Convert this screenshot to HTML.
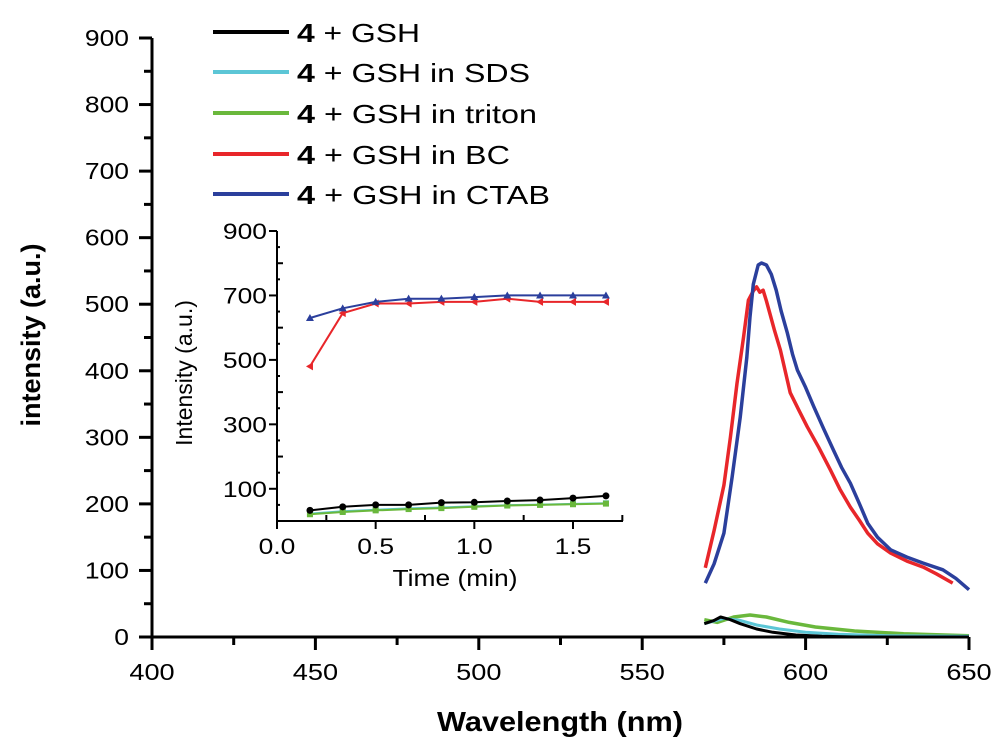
<!DOCTYPE html>
<html><head><meta charset="utf-8"><style>
html,body{margin:0;padding:0;background:#fff;}
svg{display:block;font-family:"Liberation Sans",Arial,sans-serif;}
</style></head><body>
<svg id="chart" width="1000" height="750" viewBox="0 0 1000 750">
<g id="main"></g>
<g id="inset"></g>
<g id="legend"></g>
</svg>
<script>
const NS="http://www.w3.org/2000/svg";
const seriesNames=["4 + GSH","4 + GSH in SDS","4 + GSH in triton","4 + GSH in BC","4 + GSH in CTAB"];
const seriesColors=["#000000","#5cc6d6","#6ab83c","#e8262a","#2b3f9c"];
const xTicks=[400,450,500,550,600,650];
const yTicks=[0,100,200,300,400,500,600,700,800,900];
const blackWl=[569,572,574,577,580,585,590,597,605,615,650];
const blackVal=[20,25,30,26,20,12,7,3,1,0,0];
const cyanWl=[569,575,580,585,592,600,610,625,650];
const cyanVal=[20,28,25,18,12,7,4,2,1];
const greenWl=[569,573,578,583,588,595,603,615,630,650];
const greenVal=[26,22,30,33,30,22,15,9,5,2];
const redWl=[569.3,572,575,577,579,581,582.5,584,585,586,587,588,589,590.5,592.3,595.3,598,600.5,604,607.6,610.5,613.7,616.5,619,622,626,631,636,640,645];
const redVal=[104,160,228,300,381,450,506,520,526,518,521,505,487,460,431,367,340,316,285,251,222,195,175,156,140,126,114,105,95,81];
const blueWl=[569.3,572,575,577.5,580,582,583,584,585.5,586.5,588,589.5,591,592.5,594.4,596,597.5,600,602.5,605.5,608.5,611,613.7,616.5,619,622,626,631,636,642,646,650];
const blueVal=[81,110,156,240,330,420,481,530,559,562,559,545,521,490,457,425,401,375,346,313,281,255,231,200,171,150,131,120,111,101,88,71];
const tVals=[0.167,0.333,0.5,0.667,0.833,1.0,1.167,1.333,1.5,1.667];
const insBlue=[630,660,680,690,690,695,700,700,700,700];
const insRed=[480,645,675,675,680,680,690,680,680,680];
const insBlack=[33,44,50,50,57,58,62,65,71,78];
const insGreen=[21,28,33,37,40,44,48,50,52,54];
const insCyan=[23,30,35,39,42,46,49,51,53,55];
const insXTicks=[0.0,0.5,1.0,1.5];
const insYTicks=[100,300,500,700,900];

function el(tag,attrs,parent,name,inter){
  const e=document.createElementNS(NS,tag);
  for(const k in attrs)e.setAttribute(k,attrs[k]);
  
  
  parent.appendChild(e);return e;
}
function stretch(t,k){
  const w=t.getComputedTextLength();
  t.setAttribute('textLength',(w*k).toFixed(1));
  t.setAttribute('lengthAdjust','spacingAndGlyphs');
}
const X=v=>152+(v-400)*(817/250);
const Y=v=>637-v*(599/900);
const gm=document.getElementById('main');
el('line',{x1:152,y1:Y(0),x2:969,y2:Y(0),stroke:'#000','stroke-width':3},gm,'x-axis-line');
el('line',{x1:152,y1:Y(0)+1.5,x2:152,y2:Y(900),stroke:'#000','stroke-width':3},gm,'y-axis-line');
for(let v=400;v<=650;v+=25){
  const maj=(v%50===0);
  el('line',{x1:X(v),y1:Y(0),x2:X(v),y2:Y(0)+(maj?13:8),stroke:'#000','stroke-width':3},gm,'x-tick');
}
xTicks.forEach(v=>{const t=el('text',{x:X(v),y:680,'text-anchor':'middle','font-size':23},gm,'x-tick-label');t.textContent=v;stretch(t,1.18);});
for(let v=0;v<=900;v+=50){
  const maj=(v%100===0);
  el('line',{x1:152,y1:Y(v),x2:152-(maj?13:8),y2:Y(v),stroke:'#000','stroke-width':3},gm,'y-tick');
}
yTicks.forEach(v=>{const t=el('text',{x:129,y:Y(v)+8,'text-anchor':'end','font-size':23},gm,'y-tick-label');t.textContent=v;stretch(t,1.15);});
let tt=el('text',{x:560,y:731,'text-anchor':'middle','font-size':28,'font-weight':'bold'},gm,'x-axis-title');tt.textContent='Wavelength (nm)';
tt.setAttribute('textLength','246');tt.setAttribute('lengthAdjust','spacingAndGlyphs');
tt=el('text',{x:0,y:0,'text-anchor':'middle','font-size':27,'font-weight':'bold',transform:'translate(40,335) rotate(-90)'},gm,'y-axis-title');tt.textContent='intensity (a.u.)';
function poly(xs,ys,fx,fy,color,w,parent,name){
  const pts=xs.map((x,i)=>fx(x).toFixed(1)+','+fy(ys[i]).toFixed(1)).join(' ');
  el('polyline',{points:pts,fill:'none',stroke:color,'stroke-width':w,'stroke-linejoin':'round'},parent,name);
}
poly(greenWl,greenVal,X,Y,seriesColors[2],3.5,gm,'triton-spectrum');
poly(cyanWl,cyanVal,X,Y,seriesColors[1],3,gm,'sds-spectrum');
poly(blackWl,blackVal,X,Y,seriesColors[0],3,gm,'gsh-spectrum');
poly(redWl,redVal,X,Y,seriesColors[3],3.5,gm,'bc-spectrum');
poly(blueWl,blueVal,X,Y,seriesColors[4],3.5,gm,'ctab-spectrum');
// inset
const gi=document.getElementById('inset');
const IX=v=>277+v*(296/1.5);
const IY=v=>521-v*(290/900);
el('line',{x1:277,y1:521,x2:623,y2:521,stroke:'#000','stroke-width':2},gi,'inset-x-axis');
el('line',{x1:277,y1:522,x2:277,y2:231,stroke:'#000','stroke-width':2},gi,'inset-y-axis');
for(let v=0;v<=1.75;v+=0.25){
  const maj=Math.abs(v*2-Math.round(v*2))<1e-6;
  el('line',{x1:IX(v),y1:521,x2:IX(v),y2:maj?529:515,stroke:'#000','stroke-width':2},gi,'inset-x-tick');
}
insXTicks.forEach(v=>{const t=el('text',{x:IX(v),y:554,'text-anchor':'middle','font-size':22},gi,'inset-x-tick-label');t.textContent=v.toFixed(1);stretch(t,1.2);});
for(let v=0;v<=900;v+=50){
  const maj=(v%200===100);
  el('line',{x1:277,y1:IY(v),x2:maj?269:(v%100===0?283:280),y2:IY(v),stroke:'#000','stroke-width':2},gi,'inset-y-tick');
}
insYTicks.forEach(v=>{const t=el('text',{x:267,y:IY(v)+8,'text-anchor':'end','font-size':22},gi,'inset-y-tick-label');t.textContent=v;stretch(t,1.2);});
tt=el('text',{x:455,y:586,'text-anchor':'middle','font-size':23},gi,'inset-x-axis-title');tt.textContent='Time (min)';
tt.setAttribute('textLength','125');tt.setAttribute('lengthAdjust','spacingAndGlyphs');
tt=el('text',{x:0,y:0,'text-anchor':'middle','font-size':23,transform:'translate(192,373) rotate(-90)'},gi,'inset-y-axis-title');tt.textContent='Intensity (a.u.)';
function marks(vals,color,shape,name){
  poly(tVals,vals,IX,IY,color,2,gi,name+'-line');
  tVals.forEach((t,i)=>{
    const x=IX(t),y=IY(vals[i]);
    if(shape==='circle')el('circle',{cx:x,cy:y,r:3.5,fill:color},gi,name+'-point');
    else if(shape==='square')el('rect',{x:x-3,y:y-3,width:6,height:6,fill:color},gi,name+'-point');
    else if(shape==='up')el('polygon',{points:`${x},${y-4} ${x-4},${y+3} ${x+4},${y+3}`,fill:color},gi,name+'-point');
    else el('polygon',{points:`${x-4},${y} ${x+3},${y-4} ${x+3},${y+4}`,fill:color},gi,name+'-point');
  });
}
marks(insCyan,seriesColors[1],'square','inset-sds');
marks(insGreen,seriesColors[2],'square','inset-triton');
marks(insBlack,seriesColors[0],'circle','inset-gsh');
marks(insRed,seriesColors[3],'left','inset-bc');
marks(insBlue,seriesColors[4],'up','inset-ctab');
// legend
const gl=document.getElementById('legend');
const ly=[32,72,113,154,194];
const lw=[123,233,240,213,253];
seriesNames.forEach((n,i)=>{
  el('line',{x1:213,y1:ly[i],x2:289,y2:ly[i],stroke:seriesColors[i],'stroke-width':4},gl,'legend-swatch');
  const t=el('text',{x:297,y:ly[i]+10,'font-size':26,textLength:lw[i],lengthAdjust:'spacingAndGlyphs'},gl,'legend-entry');
  const b=document.createElementNS(NS,'tspan');b.setAttribute('font-weight','bold');b.textContent='4';
  t.appendChild(b);t.appendChild(document.createTextNode(n.slice(1)));
});
</script>
</body></html>
